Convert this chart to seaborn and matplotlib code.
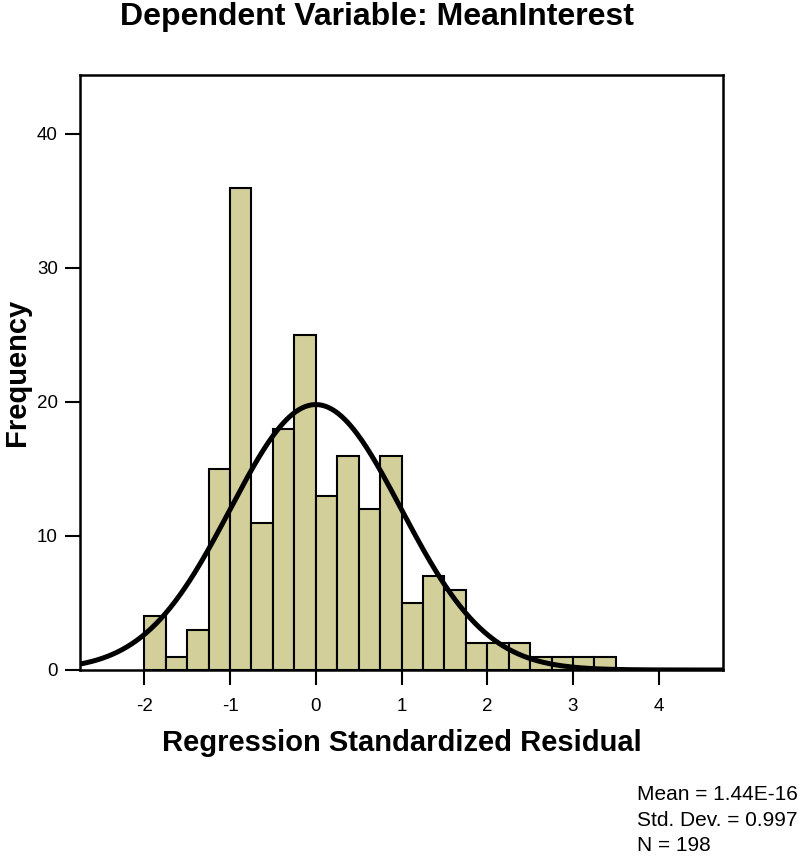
import numpy as np
import pandas as pd
import matplotlib
matplotlib.use("Agg")
import matplotlib.pyplot as plt
import seaborn as sns

# histogram of standardized residuals (bin width 0.25)
bin_left = np.arange(-2.0, 3.5, 0.25)
counts = [4, 1, 3, 15, 36, 11, 18, 25, 13, 16, 12, 16,
          5, 7, 6, 2, 2, 2, 1, 1, 1, 1]
mean_val = 1.44e-16
std_val = 0.997
n_obs = 198
bin_width = 0.25

sns.set_style("white")
plt.rcParams['font.family'] = ['Liberation Sans', 'DejaVu Sans']
plt.rcParams['text.color'] = 'black'
plt.rcParams['axes.labelcolor'] = 'black'
plt.rcParams['xtick.color'] = 'black'
plt.rcParams['ytick.color'] = 'black'
plt.rcParams['axes.unicode_minus'] = False

df = pd.DataFrame({"resid": bin_left + bin_width / 2, "count": counts})

fig = plt.figure(figsize=(8.01, 8.56), dpi=100)
ax = fig.add_axes([0.0999, 0.2173, 0.8027, 0.6951])

sns.histplot(data=df, x="resid", weights="count", binwidth=bin_width,
             binrange=(-2.0, 3.5), ax=ax,
             color="#d3cf9a", edgecolor="black", linewidth=1.5, alpha=1)

# normal curve, scaled to counts
xs = np.linspace(-2.75, 4.75, 400)
ys = n_obs * bin_width * np.exp(-0.5 * ((xs - mean_val) / std_val) ** 2) / (std_val * np.sqrt(2 * np.pi))
sns.lineplot(x=xs, y=ys, ax=ax, color="black", linewidth=3.6)

ax.set_xlim(-2.75, 4.75)
ax.set_ylim(0, 44.4)
ax.set_xticks([-2, -1, 0, 1, 2, 3, 4])
ax.set_yticks([0, 10, 20, 30, 40])
ax.tick_params(axis="both", direction="out", length=11, width=1.5, labelsize=13.5,
               bottom=True, left=True, pad=5)
ax.tick_params(axis="x", pad=9)
for s in ax.spines.values():
    s.set_linewidth(1.8)
    s.set_color("black")

ax.set_xlabel("Regression Standardized Residual", fontsize=21, fontweight="bold", labelpad=10)
ax.set_ylabel("Frequency", fontsize=21, fontweight="bold", labelpad=4)

fig.text(0.471, 0.98, "Dependent Variable: MeanInterest", ha="center", va="center",
         fontsize=23, fontweight="bold")
fig.text(0.795, 0.042, "Mean = 1.44E-16\nStd. Dev. = 0.997\nN = 198", ha="left", va="center",
         fontsize=15, linespacing=1.45)

fig.savefig("out.png", dpi=100)
